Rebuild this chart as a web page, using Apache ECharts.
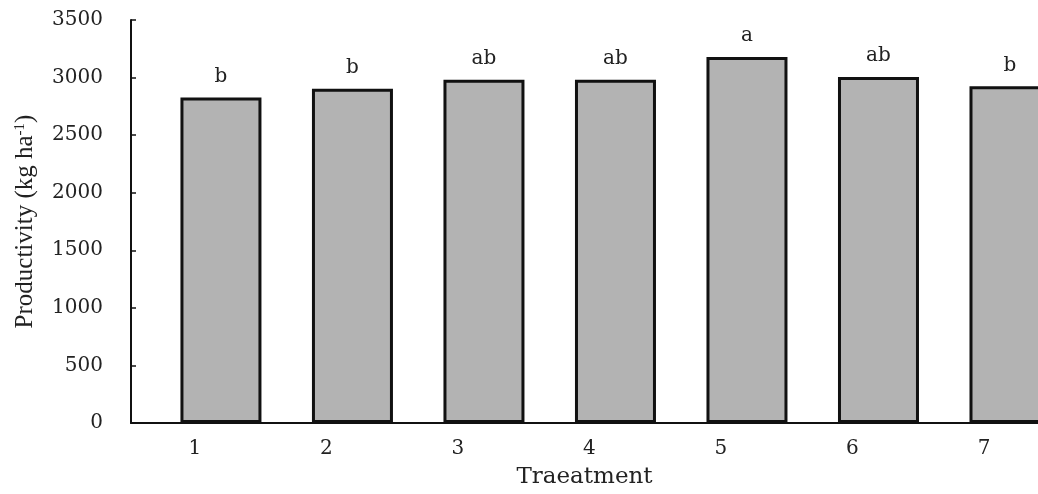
<!DOCTYPE html>
<html style="height: 100%">
    <head>
        <meta charset="utf-8">
        <script type="text/javascript" src="https://cdn.jsdelivr.net/npm/echarts@6/dist/echarts.min.js"></script>
    </head>
    <body style="height: 100%; margin: 0; background-color: #ffffff">
        <div id="container" style="width: 1038px; height: 494px"></div>
        <script type="text/javascript">
        // data
        var treatments = [1, 2, 3, 4, 5, 6, 7];
        var productivity = [2828, 2904, 2981, 2981, 3178, 3005, 2924];
        var letters = ['b', 'b', 'ab', 'ab', 'a', 'ab', 'b'];
        var yTicks = [0, 500, 1000, 1500, 2000, 2500, 3000, 3500];

        var dom = document.getElementById("container");
        var chart = echarts.init(dom);

        var barData = treatments.map(function (t, i) {
            return [t, productivity[i]];
        });

        option = {
            animation: false,
            grid: {
                left: 131,
                right: 0,
                top: 20,
                bottom: 69
            },
            xAxis: {
                type: 'value',
                min: 0.316,
                max: 7.213,
                name: 'Traeatment',
                nameLocation: 'middle',
                nameGap: 43,
                nameTextStyle: {
                    fontFamily: 'DejaVu Serif',
                    fontSize: 23,
                    color: '#222'
                },
                splitLine: { show: false },
                axisLine: {
                    show: true,
                    onZero: false,
                    lineStyle: { color: '#111', width: 2 }
                },
                axisTick: { show: false },
                axisLabel: {
                    customValues: treatments,
                    fontFamily: 'DejaVu Serif',
                    fontSize: 20,
                    color: '#222',
                    margin: 16,
                    padding: [0, 52, 0, 0],
                    formatter: function (v) { return String(Math.round(v)); }
                }
            },
            yAxis: {
                type: 'value',
                min: yTicks[0],
                max: yTicks[yTicks.length - 1],
                interval: 500,
                name: '{t|Productivity (kg ha}{s|-1}{t|)}',
                nameLocation: 'middle',
                nameGap: 93,
                nameTextStyle: {
                    rich: {
                        t: { fontFamily: 'Liberation Serif', fontSize: 25, color: '#222' },
                        s: { fontFamily: 'Liberation Serif', fontSize: 15, color: '#222', padding: [0, 0, 10, 0] }
                    }
                },
                splitLine: { show: false },
                axisLine: {
                    show: true,
                    lineStyle: { color: '#111', width: 2 }
                },
                axisTick: {
                    show: true,
                    inside: true,
                    length: 5,
                    lineStyle: { color: '#111', width: 1.5 }
                },
                axisLabel: {
                    fontFamily: 'DejaVu Serif',
                    fontSize: 20,
                    color: '#222',
                    margin: 28,
                    formatter: function (v) { return String(v); }
                }
            },
            series: [{
                type: 'bar',
                data: barData,
                barWidth: 81,
                itemStyle: {
                    color: '#b3b3b3',
                    borderColor: '#111',
                    borderWidth: 3
                },
                label: {
                    show: true,
                    position: 'top',
                    distance: 11,
                    fontFamily: 'DejaVu Serif',
                    fontSize: 20,
                    color: '#222',
                    formatter: function (p) { return letters[p.dataIndex]; }
                }
            }]
        };
        if (option && typeof option === 'object') {
            chart.setOption(option);
        }
        </script>
    </body>
</html>
